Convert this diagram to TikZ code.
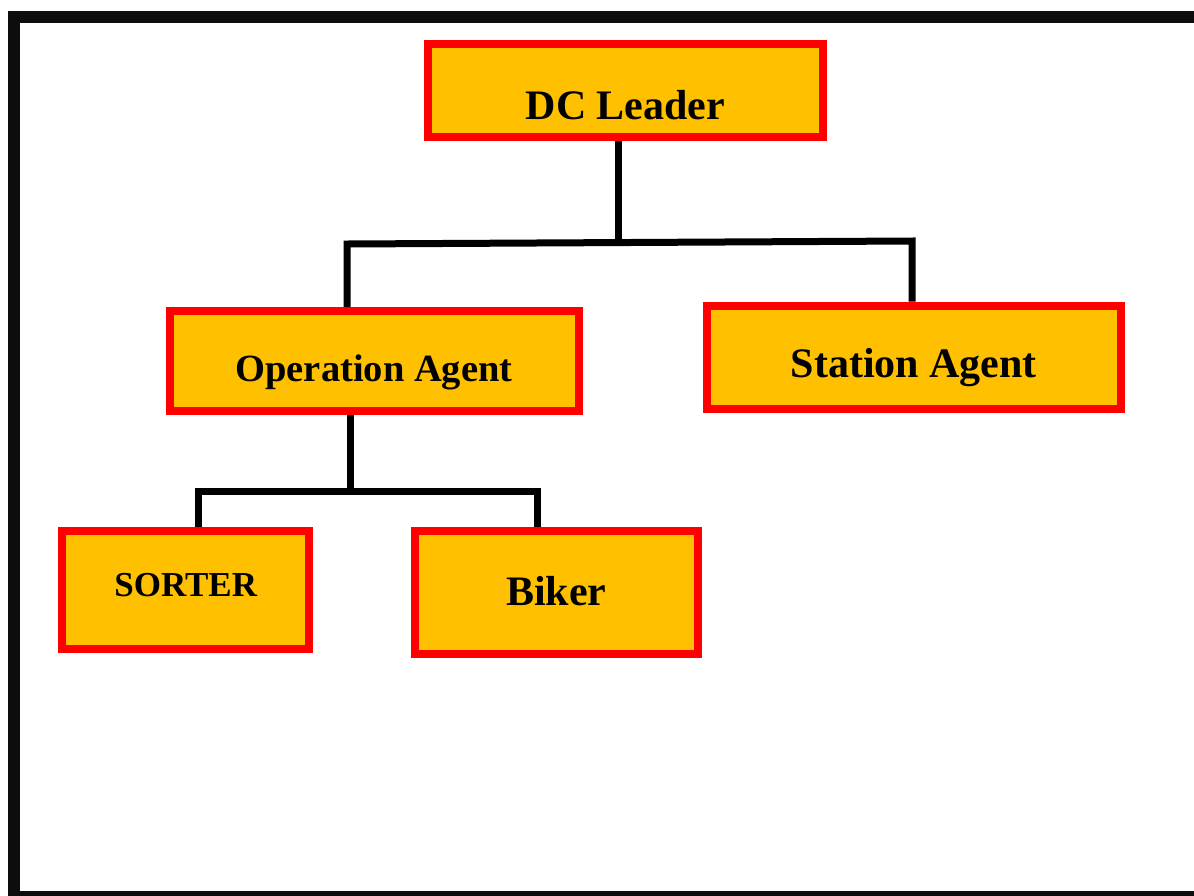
\documentclass[tikz,border=0pt]{standalone}
\usepackage{fontspec}
\setmainfont{Liberation Serif}
\usepackage{tikz}

\definecolor{boxfill}{HTML}{FFC000}
\definecolor{framegray}{HTML}{0D0D0D}
\tikzset{
  box/.style={draw=red, fill=boxfill, line width=8pt, inner sep=0pt, text depth=0pt},
  conn/.style={black, line width=7pt},
}

\begin{document}
\begin{tikzpicture}[x=1pt,y=-1pt]
  \useasboundingbox (0,0) rectangle (1194,895);
  % outer frame
  \draw[framegray,line width=12pt] (13.5,16.5) rectangle (1215,897);
  % boxes
  \node[box,minimum width=395pt,minimum height=93pt,text height=58.8pt,
        font=\bfseries\fontsize{42}{48}\selectfont] (dc) at (625.5,90.5) {DC Leader};
  \node[box,minimum width=409pt,minimum height=100pt,text height=41.5pt,
        font=\bfseries\fontsize{38.5}{44}\selectfont] (op) at (374,361) {Operation Agent};
  \node[box,minimum width=414pt,minimum height=103.6pt,text height=40.8pt,
        font=\bfseries\fontsize{42}{48}\selectfont] (st) at (913.8,357.5) {Station Agent};
  \node[box,minimum width=247.3pt,minimum height=118.6pt,text height=13.2pt,
        font=\bfseries\fontsize{35}{40}\selectfont] (sorter) at (185.7,590) {SORTER};
  \node[box,minimum width=282.7pt,minimum height=123.6pt,text height=26.8pt,
        font=\bfseries\fontsize{42}{48}\selectfont] (biker) at (556.3,592.5) {Biker};
  % upper branch
  \coordinate (top) at (618,242.5);
  \coordinate (jl) at (347,244);
  \coordinate (jr) at (912,241);
  \draw[conn] (dc.south -| top) -- (top);
  \draw[conn] (op.north -| jl) -- (jl) -- (jr) -- (st.north -| jr);
  % lower branch
  \coordinate (mid) at (350,491);
  \coordinate (kl) at (198.3,491);
  \coordinate (kr) at (537.3,491);
  \draw[conn] (op.south -| mid) -- (mid);
  \draw[conn] (sorter.north -| kl) -- (kl) -- (kr) -- (biker.north -| kr);
\end{tikzpicture}
\end{document}
